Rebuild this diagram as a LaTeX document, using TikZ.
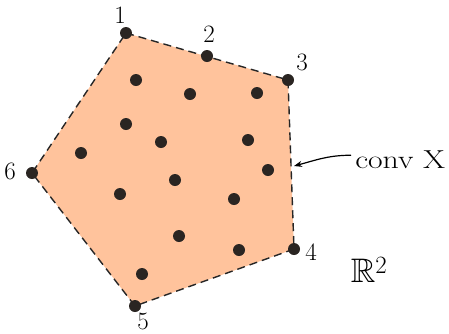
\documentclass[tikz,border=0pt]{standalone}
\usepackage{amssymb}
\usetikzlibrary{arrows.meta}
\definecolor{peach}{HTML}{FFC39C}
\definecolor{dotc}{HTML}{2A2522}
\begin{document}
\begin{tikzpicture}[x=1pt,y=-1pt,
  dotpt/.style={circle,fill=dotc,inner sep=0pt,minimum size=12pt},
  vlbl/.style={font=\fontsize{25}{28}\selectfont,inner sep=0pt},
  hull/.style={fill=peach,draw=black!85,dash pattern=on 8pt off 5pt,line width=1.4pt}]
\useasboundingbox (0,0) rectangle (449,333);
\coordinate (v1) at (126,33);
\coordinate (v3) at (288,80);
\coordinate (v4) at (294,249);
\coordinate (v5) at (135,306);
\coordinate (v6) at (32,173);
\filldraw[hull] (v1) -- (v3) -- (v4) -- (v5) -- (v6) -- cycle;
% vertices
\node[dotpt] (p1) at (v1) {};
\node[dotpt] (p2) at (207,56) {};
\node[dotpt] (p3) at (v3) {};
\node[dotpt] (p4) at (v4) {};
\node[dotpt] (p5) at (v5) {};
\node[dotpt] (p6) at (v6) {};
% interior points
\node[dotpt] (q1) at (136,80) {};
\node[dotpt] (q2) at (190,94) {};
\node[dotpt] (q3) at (257,93) {};
\node[dotpt] (q4) at (126,124) {};
\node[dotpt] (q5) at (161,142) {};
\node[dotpt] (q6) at (248,140) {};
\node[dotpt] (q7) at (81,153) {};
\node[dotpt] (q8) at (268,170) {};
\node[dotpt] (q9) at (175,180) {};
\node[dotpt] (q10) at (120,194) {};
\node[dotpt] (q11) at (234,199) {};
\node[dotpt] (q12) at (179,236) {};
\node[dotpt] (q13) at (239,250) {};
\node[dotpt] (q14) at (142,274) {};
% labels
\node[vlbl] (l1) at (120,15) {1};
\node[vlbl] (l2) at (209,34) {2};
\node[vlbl] (l3) at (302,62) {3};
\node[vlbl] (l4) at (311,252) {4};
\node[vlbl] (l5) at (143,321) {5};
\node[vlbl] (l6) at (10,171) {6};
\node[font=\fontsize{26}{30}\selectfont,inner sep=0pt,anchor=base west,xscale=1.22] (conv) at (355,168) {conv X};
\node[font=\fontsize{34}{38}\selectfont,inner sep=0pt] (r2) at (369,270) {$\mathbb{R}^2$};
\coordinate (tip) at (294,166);
\draw[-{Stealth[length=8pt,width=6pt]},line width=1.2pt] (conv.west) ++(-4,-4) to[out=180,in=15] (tip);
\end{tikzpicture}
\end{document}
